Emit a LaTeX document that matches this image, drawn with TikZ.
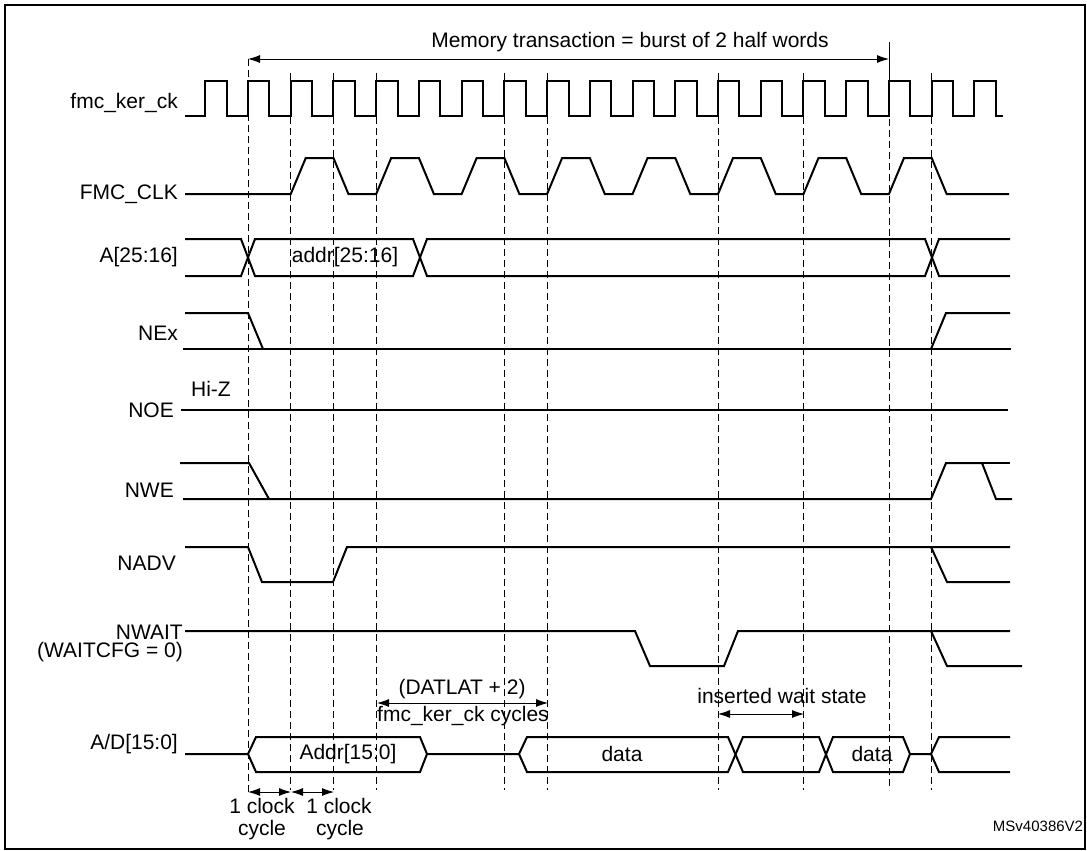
\documentclass[tikz,border=0pt]{standalone}
\usepackage{fontspec}
\setmainfont{Liberation Sans}
\usetikzlibrary{arrows.meta}
\tikzset{sig/.style={line width=2pt, line join=miter},
  cyc/.style={line width=0.9pt, dash pattern=on 7pt off 4pt},
  span/.style={{Latex[length=12pt,width=8pt]}-{Latex[length=12pt,width=8pt]}, line width=0.9pt},
  lbl/.style={anchor=east, inner sep=0pt, font=\fontsize{21}{24}\selectfont},
  txt/.style={inner sep=0pt, font=\fontsize{21}{24}\selectfont}}
\begin{document}
\begin{tikzpicture}[x=1pt,y=-1pt]
\useasboundingbox (0,0) rectangle (1087,851);
\draw[line width=1.2pt] (5,5) rectangle (1085,849);

% signal names
\node[lbl] (ck) at (178,103) {fmc\_ker\_ck};
\node[lbl] (clk) at (178,194) {FMC\_CLK};
\node[lbl] (ahi) at (178,257) {A[25:16]};
\node[lbl] (nex) at (178,333) {NEx};
\node[lbl] (noe) at (174,410) {NOE};
\node[lbl] (nwe) at (174,490) {NWE};
\node[lbl] (nadv) at (176,563) {NADV};
\node[lbl] (nwait) at (183,632) {NWAIT};
\node[lbl] (wcfg) at (183,652) {(WAITCFG = 0)};
\node[lbl] (ad) at (178,744) {A/D[15:0]};

% dashed markers on fmc_ker_ck rising edges
\foreach \k in {1,2,3,6,7,11,13,16}
  \draw[cyc] (248+42.73*\k,73) -- (248+42.73*\k,790);
\coordinate (t0) at (248,59);
\coordinate (t1) at (889,59);
\draw[cyc] (t0) -- (248,792);
\draw[line width=0.9pt] (889,42) -- (889,75);
\draw[cyc] (889,75) -- (889,790);
\draw[span] (t0) -- (t1);
\node[txt] (mem) at (630,42) {Memory transaction = burst of 2 half words};

% fmc_ker_ck
\draw[sig] (185,116) foreach \k [evaluate=\k as \x using 248+42.73*\k] in {-1,...,17}
  { -- (\x,116) -- (\x,81) -- (\x+21.4,81) -- (\x+21.4,116)} -- (1003,116);

% FMC_CLK
\draw[sig] (185,194) foreach \j [evaluate=\j as \x using 248+42.73*(2*\j+1)] in {0,...,7}
  { -- (\x,194) -- (\x+15,158) -- (\x+42.73,158) -- (\x+57.7,194)} -- (1009,194);

% A[25:16]
\draw[sig] (185,239) -- (241,239) -- (255,276) -- (413,276) -- (427,239) -- (925,239) -- (939,276) -- (1010,276);
\draw[sig] (185,276) -- (241,276) -- (255,239) -- (413,239) -- (427,276) -- (925,276) -- (939,239) -- (1010,239);
\node[txt] (addrhi) at (345,257) {addr[25:16]};

% NEx
\draw[sig] (185,313) -- (248,313) -- (263,349);
\draw[sig] (183,349) -- (1011,349);
\draw[sig] (931,349) -- (946,313) -- (1010,313);

% NOE
\draw[sig] (181,410) -- (1008,410);
\node[txt] (hiz) at (211,389) {Hi-Z};

% NWE
\draw[sig] (180,463) -- (249,463) -- (269,499);
\draw[sig] (183,499) -- (931,499) -- (946,463) -- (982,463) -- (996,499) -- (1012,499);
\draw[sig] (982,463) -- (1010,463);

% NADV
\draw[sig] (185,547) -- (248,547) -- (262,582) -- (333,582) -- (347,547) -- (1010,547);
\draw[sig] (931,547) -- (947,582) -- (1010,582);

% NWAIT
\draw[sig] (185,631) -- (635,631) -- (650,666) -- (724,666) -- (738,631) -- (1010,631);
\draw[sig] (931,631) -- (947,666) -- (1022,666);

% A/D[15:0]
\draw[sig] (185,754) -- (248,754) -- (256,737) -- (420,737) -- (427,754) -- (519,754)
  -- (527,737) -- (728,737) -- (743,772) -- (819,772) -- (833,737) -- (903,737) -- (910,754)
  -- (931,754) -- (939,737) -- (1010,737);
\draw[sig] (248,754) -- (256,772) -- (420,772) -- (427,754);
\draw[sig] (519,754) -- (527,772) -- (728,772) -- (743,737) -- (819,737) -- (833,772) -- (903,772) -- (910,754);
\draw[sig] (931,754) -- (939,772) -- (1010,772);
\node[txt] (addrlo) at (348,754) {Addr[15:0]};
\node[txt] (d1) at (622,754) {data};
\node[txt] (d2) at (872,754) {data};

% timing annotations
\coordinate (l0) at (377,703);
\coordinate (l1) at (548,703);
\draw[span] (l0) -- (l1);
\node[txt] (lat) at (462,689) {(DATLAT + 2)};
\node[txt] (latc) at (463,716) {fmc\_ker\_ck cycles};
\coordinate (w0) at (718,714);
\coordinate (w1) at (804,714);
\draw[span] (w0) -- (w1);
\node[txt] (wait) at (782,696) {inserted wait state};
\coordinate (c0) at (248,792);
\coordinate (c1) at (291,792);
\coordinate (c2) at (334,792);
\draw[span] (c0) -- (c1);
\draw[span] (c1) -- (c2);
\node[txt] (cy1) at (262,806) {1 clock};
\node[txt] (cy1b) at (262,830) {cycle};
\node[txt] (cy2) at (339,806) {1 clock};
\node[txt] (cy2b) at (340,830) {cycle};
\node[txt, font=\fontsize{15}{17}\selectfont] (ref) at (1038,826) {MSv40386V2};
\end{tikzpicture}
\end{document}
